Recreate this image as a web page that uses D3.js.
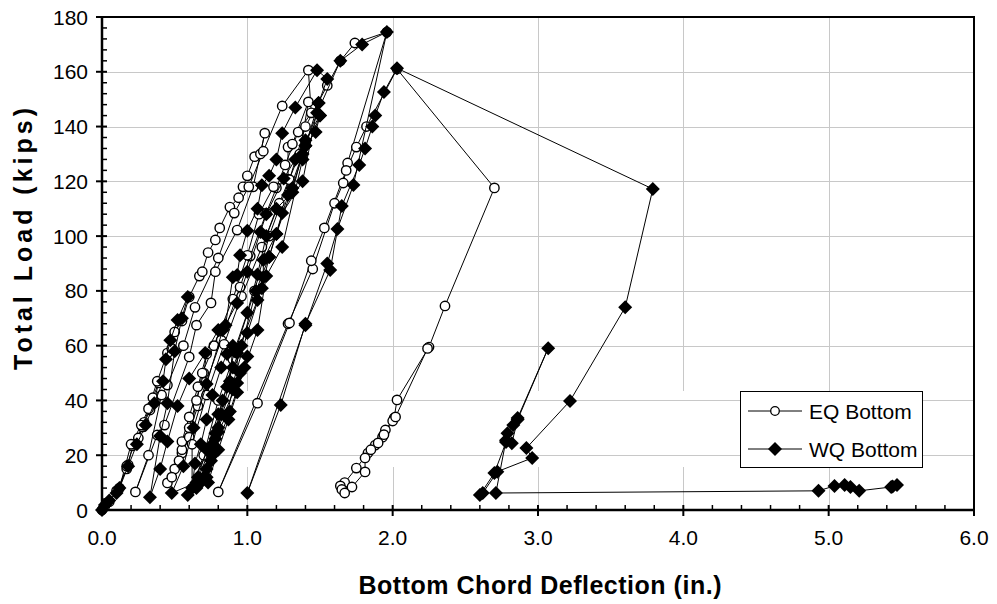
<!DOCTYPE html>
<html>
<head>
<meta charset="utf-8">
<script src="https://cdn.jsdelivr.net/npm/d3@7"></script>
<style>
  body { margin: 0; background: #fff; }
  text { font-family: Arial, "Liberation Sans", sans-serif; fill: #000; }
</style>
</head>
<body>
<svg id="chart" width="997" height="604"></svg>
<script>
// Axis ticks
const xTicks = [0, 1, 2, 3, 4, 5, 6];
const yTicks = [0, 20, 40, 60, 80, 100, 120, 140, 160, 180];
const seriesNames = ["EQ Bottom", "WQ Bottom"];

// EQ Bottom: deflection (in.) and total load (kips), in test order
const eqDefl = [
  0, 0.02, 0.05, 0.10, 0.17, 0.18, 0.21, 0.25, 0.28, 0.33, 0.36, 0.39,
  0.35, 0.29, 0.22, 0.17, 0.12,
  0.20, 0.27, 0.32, 0.38, 0.45, 0.48, 0.50, 0.55, 0.60, 0.67, 0.69, 0.73, 0.78, 0.81, 0.88, 0.94, 0.97, 1.00, 1.05, 1.09, 1.12,
  1.04, 0.93, 0.78, 0.75, 0.65, 0.60, 0.43, 0.38, 0.23,
  0.32, 0.41, 0.45, 0.56, 0.64, 0.80, 0.91, 1.01, 1.11, 1.24, 1.42,
  1.44, 1.35, 1.26, 1.20, 1.13, 1.02, 0.95, 0.82, 0.66, 0.55, 0.45,
  0.50, 0.55, 0.60, 0.65, 0.70, 0.72,
  0.66, 0.60, 0.55, 0.48,
  0.53, 0.60, 0.69, 0.77, 0.90, 1.00, 1.08, 1.18, 1.28, 1.28, 1.31, 1.42,
  1.36, 1.22, 1.10, 0.96, 0.84, 0.72, 0.62, 0.62,
  0.70, 0.80, 0.90, 1.05, 1.15, 1.29, 1.40, 1.55, 1.64, 1.74, 1.96,
  1.69, 1.66, 1.60, 1.45, 1.28, 0.80,
  1.07, 1.29, 1.44, 1.53, 1.68, 1.75, 1.82, 2.03,
  2.70, 2.36, 2.25, 2.03, 2.01, 1.95, 1.93, 1.88, 1.83, 1.75, 1.67, 1.64, 1.65, 1.67,
  1.72, 1.81, 1.81, 1.85, 1.90, 1.94, 2.00, 2.02, 2.24
];
const eqLoad = [
  0, 1.5, 3, 7, 15, 16.5, 23.4, 26.3, 30.3, 36.5, 40, 46.4,
  41, 32, 24, 16, 8,
  24, 31, 37, 47, 57.3, 59, 65, 69, 77.8, 85.4, 87, 94, 98.6, 103, 110.6, 114, 118, 122, 129, 130, 137.6,
  118, 102.2, 87, 75.6, 67.5, 55.9, 31, 27.4, 6.6,
  20, 42, 45.6, 60, 74, 92, 108.4, 118, 131, 147.5, 160.6,
  145, 138, 126, 117.6, 108.4, 92.7, 81.4, 62, 38, 20.8, 9.9,
  15, 22, 30, 40, 50, 57,
  45, 34, 25, 12,
  18, 26.6, 50, 60, 77, 93, 108, 118, 120.8, 132.5, 133.6, 149,
  130, 112, 96, 78, 60.5, 42, 24, 8,
  20, 40, 55, 80, 100, 120.6, 140, 155, 164, 170.5, 174.5,
  126.7, 119.4, 112, 88, 68, 6.6,
  39, 68.3, 91, 103, 124, 132.5, 140, 161,
  117.6, 74.5, 59.5, 40.2, 33.6, 29.2, 26.6, 23.7, 20.8, 15.3, 10, 8.8, 7.5, 6.2,
  8.4, 13.9, 19, 22, 24.5, 27.5, 32.5, 34, 59
];

// WQ Bottom: deflection (in.) and total load (kips), in test order
const wqDefl = [
  0, 0.02, 0.05, 0.10, 0.12, 0.18, 0.24, 0.30, 0.36, 0.42, 0.44, 0.47, 0.52, 0.59,
  0.55, 0.50, 0.45, 0.40, 0.33,
  0.40, 0.45, 0.52, 0.60, 0.71, 0.80, 0.85, 0.90, 0.93, 0.95, 1.00, 1.07, 1.10, 1.15, 1.20, 1.24, 1.33, 1.48,
  1.55, 1.49, 1.50, 1.47, 1.40, 1.31, 1.20, 1.11, 1.11, 1.07, 0.93, 0.93, 0.80, 0.65, 0.48,
  0.56, 0.63, 0.72, 0.83, 0.93, 1.00, 1.09, 1.13, 1.25, 1.33, 1.40, 1.49,
  1.38, 1.24, 1.15, 1.10, 1.00, 0.90, 0.78, 0.59,
  0.62, 0.64, 0.68, 0.72, 0.76, 0.82, 0.86, 0.90,
  0.88, 0.82, 0.78, 0.72, 0.66,
  0.72, 0.76, 0.80, 0.86, 0.90, 0.95, 1.00,
  0.93, 0.87, 0.80, 0.73,
  0.66, 0.72, 0.80, 0.86, 0.91, 1.00, 1.07, 1.13, 1.20, 1.31, 1.40, 1.50,
  1.38, 1.24, 1.13, 1.07, 0.98, 0.88, 0.75, 0.65,
  0.70, 0.76, 0.83, 0.90, 0.96, 1.06, 1.15, 1.20, 1.28, 1.38, 1.48, 1.64, 1.79, 1.96,
  1.73, 1.62, 1.55, 1.40, 1.00,
  1.23, 1.40, 1.57, 1.65, 1.77, 1.81, 1.86, 1.88, 1.94, 2.03,
  3.79, 3.60, 3.22, 2.92, 2.96, 2.72, 2.62, 2.60, 2.70, 2.78, 2.79, 2.83, 2.86, 3.07,
  2.86, 2.82, 2.78, 2.71,
  4.93, 5.04, 5.11, 5.15, 5.21, 5.43, 5.47, 5.44
];
const wqLoad = [
  0, 1.8, 3.5, 6.2, 8, 16, 24, 31, 39, 47, 55, 62, 69.4, 77.8,
  70, 58, 39, 27, 4.7,
  15, 25, 38, 48, 57.3, 65.7, 67.5, 85, 85.8, 93, 102, 110, 118.6, 122, 128, 137.6, 147, 160.6,
  157.4, 148.6, 144, 138, 133, 117.6, 100.8, 91.3, 85, 76.7, 57.3, 46.4, 30, 10, 6.2,
  16, 30, 46, 65.7, 75.6, 87, 101.5, 108, 121, 128, 133, 148.6,
  120, 108.4, 92.4, 81, 64.6, 46, 28, 5.5,
  8, 17, 24, 33, 42, 52, 57, 60,
  47, 35, 26, 15, 9,
  12, 20, 28.5, 35, 44, 50, 56,
  43, 33, 22, 10,
  12, 22, 35, 45, 58, 72, 86, 100, 110, 116, 135, 144,
  128, 96, 85.4, 65.7, 52, 36, 18, 8,
  12, 24, 40, 52, 60, 80, 92.4, 100.8, 115, 130, 145, 164, 170, 174.5,
  118.7, 102.6, 90, 67.5, 6.2,
  38.3, 68, 87.6, 111, 126, 132, 140, 144, 152.6, 161.3,
  117.2, 74, 39.8, 22.6, 19, 14, 6.2, 5.5, 13.5, 24.8, 28, 31, 33.6, 59.1,
  33, 24.4, 25.5, 6.2,
  7.0, 8.8, 9.1, 8.4, 7.0, 8.4, 9.1, 8.6
];

const eqData = d3.zip(eqDefl, eqLoad);
const wqData = d3.zip(wqDefl, wqLoad);

const svg = d3.select("#chart");
const plot = { left: 102, right: 974, top: 17, bottom: 510 };

const x = d3.scaleLinear().domain([0, 6]).range([plot.left, plot.right]);
const y = d3.scaleLinear().domain([0, 180]).range([plot.bottom, plot.top]);

// Legend box geometry (also used to interrupt the vertical gridlines)
const legend = { x: 740, y: 391, w: 182, h: 76 };

// Gridlines
const grid = svg.append("g").attr("stroke", "#c8c8c8").attr("stroke-width", 1);
grid.selectAll("line.h").data(yTicks.filter(d => d > 0 && d < 180)).join("line")
  .attr("x1", plot.left).attr("x2", plot.right)
  .attr("y1", d => Math.round(y(d)) + 0.5).attr("y2", d => Math.round(y(d)) + 0.5);
xTicks.filter(d => d > 0 && d < 6).forEach(d => {
  const px = Math.round(x(d)) + 0.5;
  grid.append("line").attr("x1", px).attr("x2", px).attr("y1", plot.top).attr("y2", legend.y);
  grid.append("line").attr("x1", px).attr("x2", px).attr("y1", legend.y + legend.h).attr("y2", plot.bottom);
});

const line = d3.line().x(d => x(d[0])).y(d => y(d[1]));
// Square diamond marker, 14 px across
const diamondPath = "M0,-7L7,0L0,7L-7,0Z";
const circleR = 4.7;

function drawSeries(data, kind) {
  const g = svg.append("g");
  g.append("path").datum(data).attr("d", line)
    .attr("fill", "none").attr("stroke", "#000").attr("stroke-width", 1);
  if (kind === "circle") {
    g.selectAll("circle").data(data).join("circle")
      .attr("cx", d => x(d[0])).attr("cy", d => y(d[1])).attr("r", circleR)
      .attr("fill", "#fff").attr("stroke", "#000").attr("stroke-width", 1.4);
  } else {
    g.selectAll("path.m").data(data).join("path").attr("class", "m")
      .attr("transform", d => `translate(${x(d[0])},${y(d[1])})`)
      .attr("d", diamondPath).attr("fill", "#000");
  }
}
drawSeries(eqData, "circle");
drawSeries(wqData, "diamond");

// Plot frame (top and right)
svg.append("path")
  .attr("d", `M${plot.left},${plot.top}H${plot.right}V${plot.bottom}`)
  .attr("fill", "none").attr("stroke", "#000").attr("stroke-width", 2);

// X axis
const xAxis = svg.append("g");
xAxis.append("line").attr("x1", plot.left - 1).attr("x2", plot.right + 1)
  .attr("y1", plot.bottom).attr("y2", plot.bottom).attr("stroke", "#000").attr("stroke-width", 2.5);
const xMinor = d3.range(0, 30).map(i => i * 0.2).filter(v => Math.abs(v - Math.round(v)) > 1e-6);
xAxis.selectAll("line.minor").data(xMinor).join("line").attr("class", "minor")
  .attr("x1", d => x(d)).attr("x2", d => x(d)).attr("y1", plot.bottom - 5).attr("y2", plot.bottom)
  .attr("stroke", "#000").attr("stroke-width", 1.5);
xAxis.selectAll("line.major").data(xTicks).join("line").attr("class", "major")
  .attr("x1", d => x(d)).attr("x2", d => x(d)).attr("y1", plot.bottom - 5).attr("y2", plot.bottom + 6)
  .attr("stroke", "#000").attr("stroke-width", 2);
xAxis.selectAll("text").data(xTicks).join("text")
  .attr("x", d => x(d)).attr("y", plot.bottom + 35)
  .attr("text-anchor", "middle").attr("font-size", 21)
  .text(d => d3.format(".1f")(d));

// Y axis
const yAxis = svg.append("g");
yAxis.append("line").attr("x1", plot.left).attr("x2", plot.left)
  .attr("y1", plot.top - 1).attr("y2", plot.bottom + 1).attr("stroke", "#000").attr("stroke-width", 2.5);
const yMinor = d3.range(0, 46).map(i => i * 4).filter(v => v % 20 !== 0);
yAxis.selectAll("line.minor").data(yMinor).join("line").attr("class", "minor")
  .attr("x1", plot.left).attr("x2", plot.left + 5).attr("y1", d => y(d)).attr("y2", d => y(d))
  .attr("stroke", "#000").attr("stroke-width", 1.5);
yAxis.selectAll("line.major").data(yTicks).join("line").attr("class", "major")
  .attr("x1", plot.left - 6).attr("x2", plot.left + 5).attr("y1", d => y(d)).attr("y2", d => y(d))
  .attr("stroke", "#000").attr("stroke-width", 2);
yAxis.selectAll("text").data(yTicks).join("text")
  .attr("x", plot.left - 14).attr("y", d => y(d) + 7.5)
  .attr("text-anchor", "end").attr("font-size", 21)
  .text(d => d);

// Axis titles
svg.append("text").attr("x", 540).attr("y", 594).attr("text-anchor", "middle")
  .attr("font-size", 25).attr("font-weight", "bold")
  .attr("textLength", 363).attr("lengthAdjust", "spacing")
  .text("Bottom Chord Deflection (in.)");
svg.append("text").attr("transform", "translate(32,239) rotate(-90)").attr("text-anchor", "middle")
  .attr("font-size", 25).attr("font-weight", "bold")
  .attr("textLength", 262).attr("lengthAdjust", "spacing")
  .text("Total Load (kips)");

// Legend
const lg = svg.append("g");
lg.append("rect").attr("x", legend.x + 0.5).attr("y", legend.y + 0.5)
  .attr("width", legend.w).attr("height", legend.h)
  .attr("fill", "#fff").attr("stroke", "#000").attr("stroke-width", 1);
seriesNames.forEach((name, i) => {
  const cy = legend.y + 20 + i * 38;
  lg.append("line").attr("x1", legend.x + 8).attr("x2", legend.x + 62)
    .attr("y1", cy).attr("y2", cy).attr("stroke", "#000").attr("stroke-width", 1);
  if (i === 0) {
    lg.append("circle").attr("cx", legend.x + 35).attr("cy", cy).attr("r", 4.3)
      .attr("fill", "#fff").attr("stroke", "#000").attr("stroke-width", 1.3);
  } else {
    lg.append("path").attr("transform", `translate(${legend.x + 35},${cy})`)
      .attr("d", diamondPath).attr("fill", "#000");
  }
  lg.append("text").attr("x", legend.x + 69).attr("y", cy + 7.5).attr("font-size", 21).text(name);
});
</script>
</body>
</html>
